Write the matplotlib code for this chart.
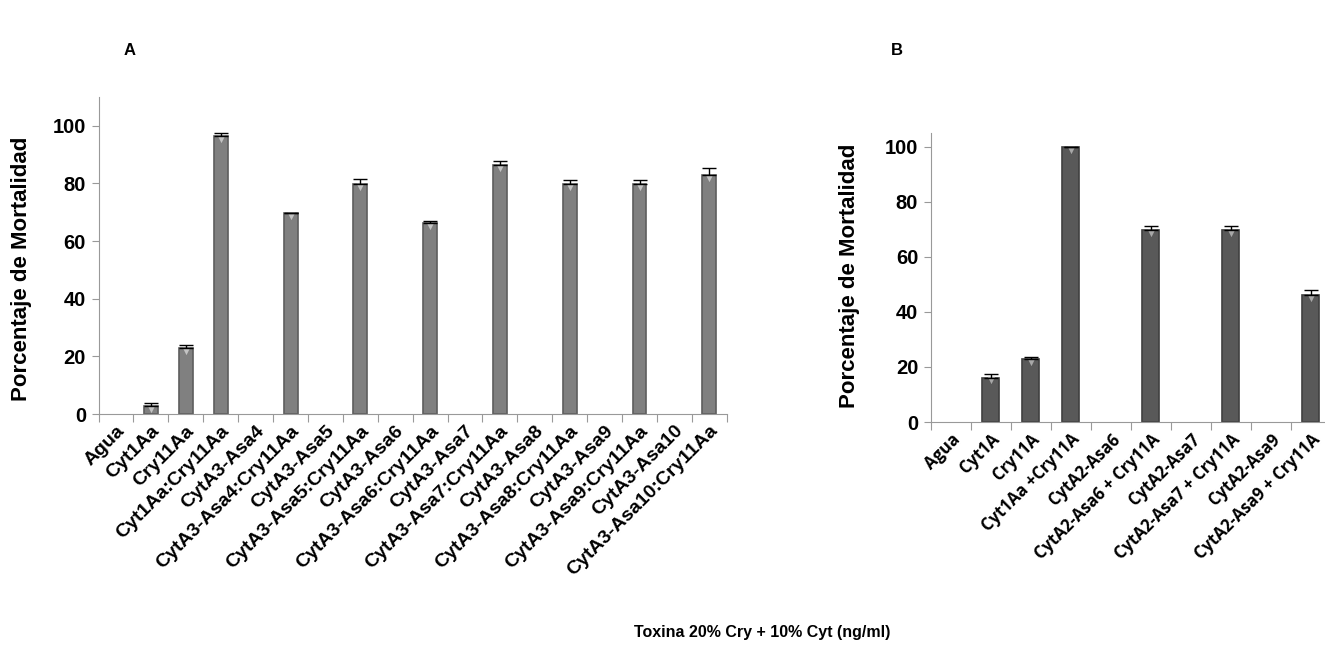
import numpy as np
import matplotlib
matplotlib.use("Agg")
import matplotlib.pyplot as plt

plt.rcParams['font.family'] = ['Liberation Sans', 'DejaVu Sans']
plt.rcParams['font.weight'] = 'bold'

# Panel A data
labels_a = ['Agua', 'Cyt1Aa', 'Cry11Aa', 'Cyt1Aa:Cry11Aa', 'CytA3-Asa4', 'CytA3-Asa4:Cry11Aa',
            'CytA3-Asa5', 'CytA3-Asa5:Cry11Aa', 'CytA3-Asa6', 'CytA3-Asa6:Cry11Aa',
            'CytA3-Asa7', 'CytA3-Asa7:Cry11Aa', 'CytA3-Asa8', 'CytA3-Asa8:Cry11Aa',
            'CytA3-Asa9', 'CytA3-Asa9:Cry11Aa', 'CytA3-Asa10', 'CytA3-Asa10:Cry11Aa']
mort_a = [0, 2.9, 22.8, 96.3, 0, 69.6, 0, 79.7, 0, 66.4, 0, 86.4, 0, 79.7, 0, 79.7, 0, 82.9]
err_a = [0, 1.0, 1.2, 1.1, 0, 0.3, 0, 2.0, 0, 0.7, 0, 1.4, 0, 1.4, 0, 1.4, 0, 2.4]

# Panel B data
labels_b = ['Agua', 'Cyt1A', 'Cry11A', 'Cyt1Aa +Cry11A', 'CytA2-Asa6', 'CytA2-Asa6 + Cry11A',
            'CytA2-Asa7', 'CytA2-Asa7 + Cry11A', 'CytA2-Asa9', 'CytA2-Asa9 + Cry11A']
mort_b = [0, 16.1, 22.8, 100, 0, 69.7, 0, 69.7, 0, 46.1]
err_b = [0, 1.2, 0.9, 0, 0, 1.4, 0, 1.4, 0, 1.7]


def draw_panel(ax, labels, vals, errs, color, edge, tri, width, ymax, tickfont, ticksize, lab_xy):
    n = len(labels)
    x = np.arange(n) + 0.5
    vals = np.array(vals)
    errs = np.array(errs)
    bars = ax.bar(x, vals, width=width, color=color, edgecolor=edge, linewidth=1.2, zorder=2)
    for b, v in zip(bars, vals):
        if v == 0:
            b.set_linewidth(0)
    # light bevel at top of each bar
    hit = vals > 0
    ax.scatter(x[hit], vals[hit] - 1.0, marker='v', s=28, color=tri, zorder=3, linewidths=0)
    ax.errorbar(x[hit], vals[hit], yerr=[np.zeros(hit.sum()), errs[hit]], fmt='none',
                ecolor='black', elinewidth=1, capsize=5, capthick=1, zorder=4)
    ax.set_xlim(0, n)
    ax.set_ylim(0, ymax)
    ax.set_yticks(range(0, 101, 20))
    ax.set_xticks(np.arange(n + 1))
    ax.set_xticklabels([])
    ax.set_xticks(x, minor=True)
    ax.set_xticklabels(labels, minor=True, rotation=45, ha='right', rotation_mode='anchor',
                       fontsize=ticksize, fontweight='bold', family=tickfont)
    ax.tick_params(axis='x', which='minor', length=0, pad=6)
    ax.tick_params(axis='x', which='major', length=6, color='#999999', direction='out')
    ax.tick_params(axis='y', length=5, color='#999999', labelsize=14.5, pad=4)
    for s in ['top', 'right']:
        ax.spines[s].set_visible(False)
    for s in ['left', 'bottom']:
        ax.spines[s].set_color('#999999')
    ax.set_ylabel('Porcentaje de Mortalidad', fontsize=16, fontweight='bold')
    ax.yaxis.set_label_coords(*lab_xy)


fig = plt.figure(figsize=(13.25, 6.67), dpi=100)

ax_a = fig.add_axes([0.0744, 0.3793, 0.4741, 0.4753])
draw_panel(ax_a, labels_a, mort_a, err_a, '#808080', '#5e5e5e', '#c4c4c4', 0.4, 110,
           ['Liberation Sans'], 14, (-0.106, 0.459))

ax_b = fig.add_axes([0.7024, 0.3673, 0.3019, 0.4333])
draw_panel(ax_b, labels_b, mort_b, err_b, '#595959', '#404040', '#a8a8a8', 0.42, 105,
           ['Open Sans', 'DejaVu Sans'], 12, (-0.177, 0.507))

fig.text(0.098, 0.925, 'A', fontsize=12, fontweight='bold', ha='center', va='center')
fig.text(0.677, 0.925, 'B', fontsize=12, fontweight='bold', ha='center', va='center')
fig.text(0.575, 0.052, 'Toxina 20% Cry + 10% Cyt (ng/ml)', fontsize=11.5, fontweight='bold',
         ha='center', va='center')

fig.savefig('out.png', dpi=100)
